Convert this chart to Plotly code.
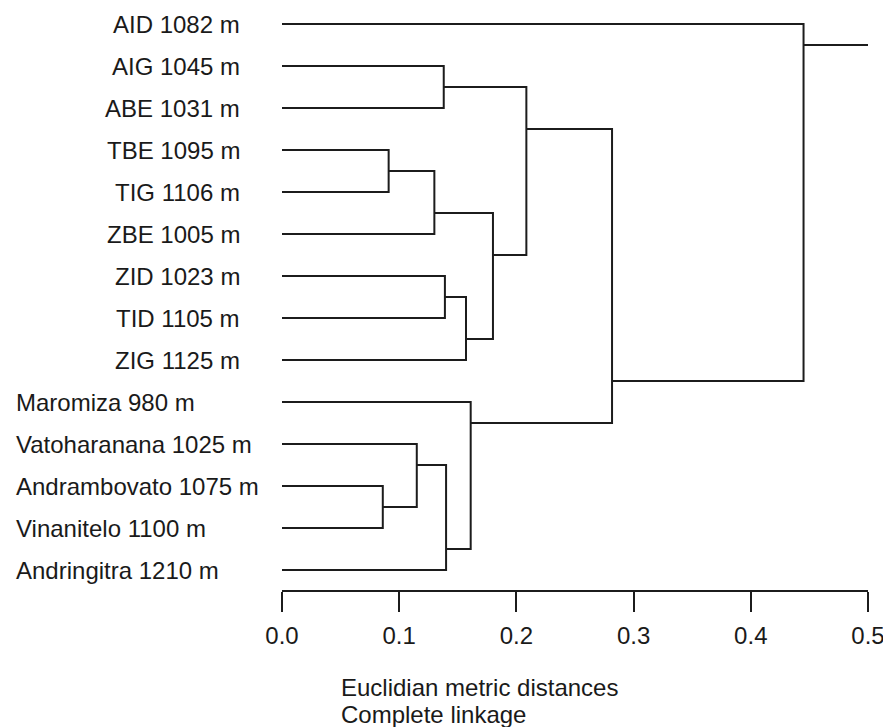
import plotly.graph_objects as go

# ---------------- data ----------------
leaves = ["AID 1082 m", "AIG 1045 m", "ABE 1031 m", "TBE 1095 m", "TIG 1106 m",
          "ZBE 1005 m", "ZID 1023 m", "TID 1105 m", "ZIG 1125 m",
          "Maromiza 980 m", "Vatoharanana 1025 m", "Andrambovato 1075 m",
          "Vinanitelo 1100 m", "Andringitra 1210 m"]
n_right_aligned = 9  # first group of labels is right-aligned, the rest left-aligned

merge_ids = ["n1", "n2", "n3", "n4", "n5", "n6", "n7", "n8", "n9", "n10", "n11", "n12", "n13"]
merge_left = ["AIG 1045 m", "TBE 1095 m", "n2", "ZID 1023 m", "n4", "n3", "n1",
              "Andrambovato 1075 m", "Vatoharanana 1025 m", "n9", "Maromiza 980 m",
              "n7", "AID 1082 m"]
merge_right = ["ABE 1031 m", "TIG 1106 m", "ZBE 1005 m", "TID 1105 m", "ZIG 1125 m",
               "n5", "n6", "Vinanitelo 1100 m", "n8", "Andringitra 1210 m", "n10",
               "n11", "n12"]
merge_height = [0.138, 0.091, 0.130, 0.139, 0.157, 0.180, 0.2085,
                0.086, 0.115, 0.140, 0.161, 0.2816, 0.445]
root_end = 0.5

tick_vals = [0.0, 0.1, 0.2, 0.3, 0.4, 0.5]
tick_text = ["0.0", "0.1", "0.2", "0.3", "0.4", "0.5"]
axis_title_lines = ["Euclidian metric distances", "Complete linkage"]

# ---------------- layout of the tree ----------------
members = {name: [i] for i, name in enumerate(leaves)}
ypos = {name: float(i) for i, name in enumerate(leaves)}
height = {name: 0.0 for name in leaves}
for nid, a, b, h in zip(merge_ids, merge_left, merge_right, merge_height):
    members[nid] = members[a] + members[b]
    ypos[nid] = (max(members[a]) + min(members[b])) / 2.0
    height[nid] = h

xs, ys = [], []
for nid, a, b, h in zip(merge_ids, merge_left, merge_right, merge_height):
    xs += [height[a], h, h, height[b], None]
    ys += [ypos[a], ypos[a], ypos[b], ypos[b], None]
root = merge_ids[-1]
xs += [height[root], root_end, None]
ys += [ypos[root], ypos[root], None]

line_color = "#1c1c1c"
font_family = "Liberation Sans, Arial, sans-serif"
fsize = 24

fig = go.Figure()
fig.add_trace(go.Scatter(x=xs, y=ys, mode="lines",
                         line=dict(color=line_color, width=2),
                         hoverinfo="skip", showlegend=False))

OFF = 8  # page body margin
W, H = 891 - OFF, 727 - OFF
ml, mr, mt, mb = 282 - OFF, 23, 10 - OFF, 137
plot_w = W - ml - mr
plot_h = H - mt - mb
step = 42.0
first_leaf_px = 24.0 - OFF
y_top = (mt - first_leaf_px) / step
y_bottom = (H - mb - first_leaf_px) / step

def px_x(p):
    return (p - OFF - ml) / plot_w

def px_y(p):
    return (H - mb - (p - OFF)) / plot_h

# leaf labels
for i, name in enumerate(leaves):
    if i < n_right_aligned:
        xp, anchor = px_x(241.5), "right"
    else:
        xp, anchor = px_x(14), "left"
    fig.add_annotation(x=xp, xref="paper", y=ypos[name], yref="y", text=name,
                       showarrow=False, xanchor=anchor, yanchor="middle",
                       font=dict(family=font_family, size=fsize, color="#1a1a1a"))

# axis title (two lines)
for line, py in zip(axis_title_lines, [687, 714]):
    fig.add_annotation(x=px_x(339), xref="paper", y=px_y(py), yref="paper",
                       text=line, showarrow=False, xanchor="left", yanchor="middle",
                       font=dict(family=font_family, size=fsize, color="#1a1a1a"))

fig.update_layout(
    width=W, height=H,
    margin=dict(l=ml, r=mr, t=mt, b=mb, pad=0),
    paper_bgcolor="white", plot_bgcolor="white",
    xaxis=dict(range=[0, 0.5], tickvals=tick_vals, ticktext=tick_text,
               showline=True, linecolor=line_color, linewidth=2,
               ticks="outside", ticklen=20, tickwidth=2, tickcolor=line_color,
               ticklabelstandoff=3,
               showgrid=False, zeroline=False, fixedrange=True,
               tickfont=dict(family=font_family, size=fsize, color="#1a1a1a")),
    yaxis=dict(range=[y_bottom, y_top], visible=False, showgrid=False,
               zeroline=False, fixedrange=True),
)

fig.write_html("out.html")
